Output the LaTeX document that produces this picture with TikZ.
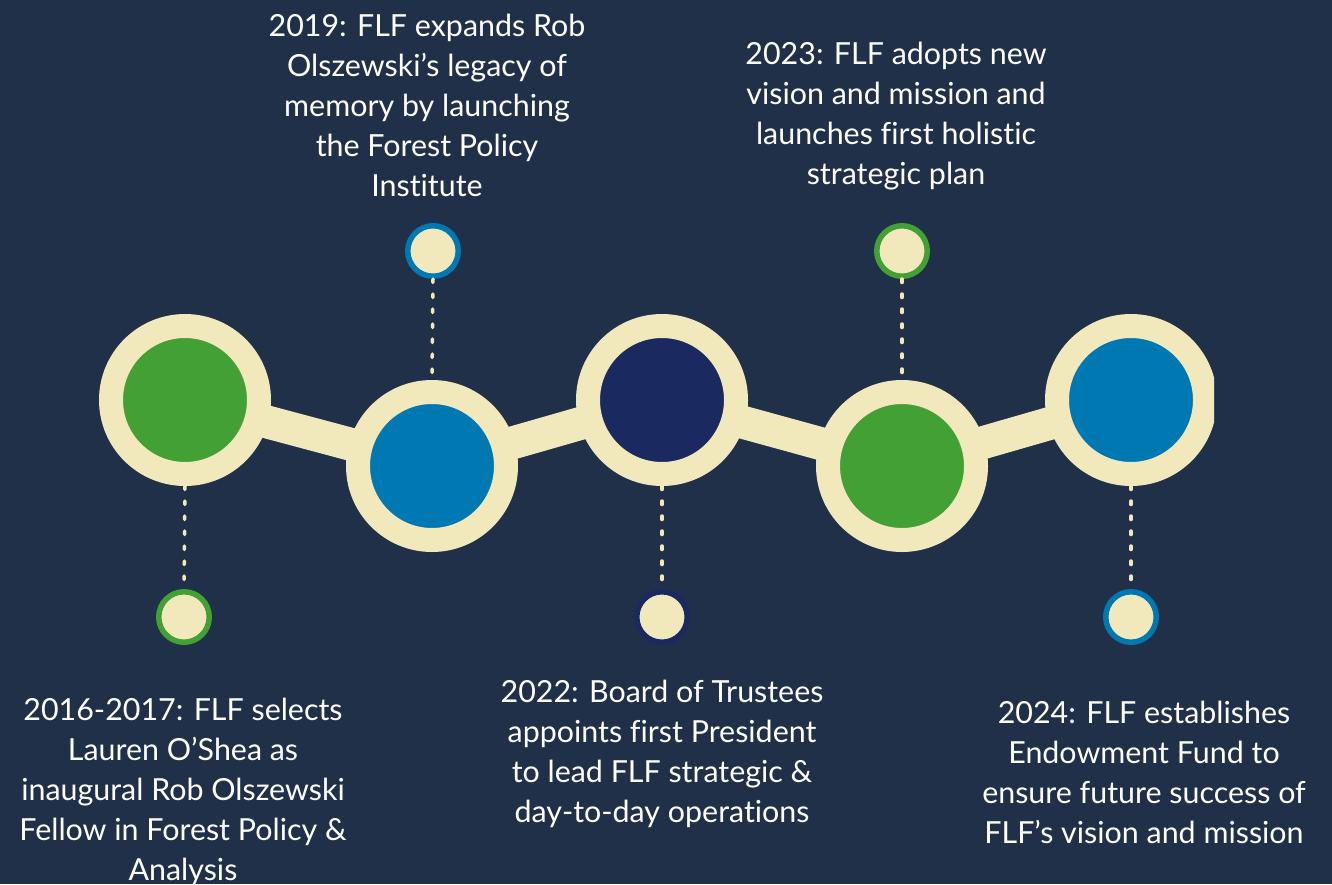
\documentclass[tikz,border=0pt]{standalone}
\usepackage{fontspec}
\setmainfont[Ligatures=CommonOff]{Lato}
\definecolor{bgnavy}{HTML}{203049}
\definecolor{cream}{HTML}{F1E8BC}
\definecolor{leafgreen}{HTML}{43A035}
\definecolor{oceanblue}{HTML}{0078B2}
\definecolor{deepnavy}{HTML}{1A2A60}
\pgfdeclarelayer{bg}
\pgfdeclarelayer{bars}
\pgfsetlayers{bg,bars,main}

\begin{document}
\begin{tikzpicture}[x=0.5pt, y=-0.5pt,
  bigdot/.style={circle, draw=cream, line width=12pt, inner sep=0pt, minimum size=74pt},
  smalldot/.style={circle, fill=cream, line width=2.75pt, inner sep=0pt, minimum size=25.25pt},
  eventtext/.style={text=white, align=center, font=\fontsize{15.2pt}{20pt}\selectfont, anchor=base, inner sep=0pt},
  stem/.style={cream, line width=1.75pt, line cap=round, dash pattern=on 1.75pt off 5.75pt}]

\begin{pgfonlayer}{bg}
\fill[bgnavy] (0, 0) rectangle (1332, 884);
\end{pgfonlayer}
\useasboundingbox (0, 0) rectangle (1332, 884);

\begin{scope}
\clip (0, 0) rectangle (1214, 884);
\node[bigdot, fill=leafgreen] (b1) at (185, 400) {};
\node[bigdot, fill=oceanblue] (b2) at (432, 466) {};
\node[bigdot, fill=deepnavy] (b3) at (662, 400) {};
\node[bigdot, fill=leafgreen] (b4) at (902, 466) {};
\node[bigdot, fill=oceanblue] (b5) at (1131, 400) {};
\end{scope}

\begin{pgfonlayer}{bars}
\draw[cream, line width=16.5pt] (b1.center) -- (b2.center) -- (b3.center) -- (b4.center) -- (b5.center);
\end{pgfonlayer}

\node[smalldot, draw=leafgreen] (s1) at (184, 617) {};
\node[smalldot, draw=oceanblue] (s2) at (433, 251) {};
\node[smalldot, draw=deepnavy] (s3) at (662, 617) {};
\node[smalldot, draw=leafgreen] (s4) at (902, 251) {};
\node[smalldot, draw=oceanblue] (s5) at (1131, 617) {};

\draw[stem] (b1.south) -- (s1.north);
\draw[stem] (s2.south) -- (b2.north);
\draw[stem] (b3.south) -- (s3.north);
\draw[stem] (s4.south) -- (b4.north);
\draw[stem] (b5.south) -- (s5.north);

% base anchor = baseline of the last line
\node[eventtext] (t1) at (183, 880) {2016-2017: FLF selects\\Lauren O’Shea as\\inaugural Rob Olszewski\\Fellow in Forest Policy \&\\Analysis};
\node[eventtext] (t2) at (427, 196) {2019: FLF expands Rob\\Olszewski’s legacy of\\memory by launching\\the Forest Policy\\Institute};
\node[eventtext] (t3) at (662, 822) {2022: Board of Trustees\\appoints first President\\to lead FLF strategic \&\\day-to-day operations};
\node[eventtext] (t4) at (896, 184) {2023: FLF adopts new\\vision and mission and\\launches first holistic\\strategic plan};
\node[eventtext] (t5) at (1144, 843) {2024: FLF establishes\\Endowment Fund to\\ensure future success of\\FLF’s vision and mission};
\end{tikzpicture}
\end{document}
